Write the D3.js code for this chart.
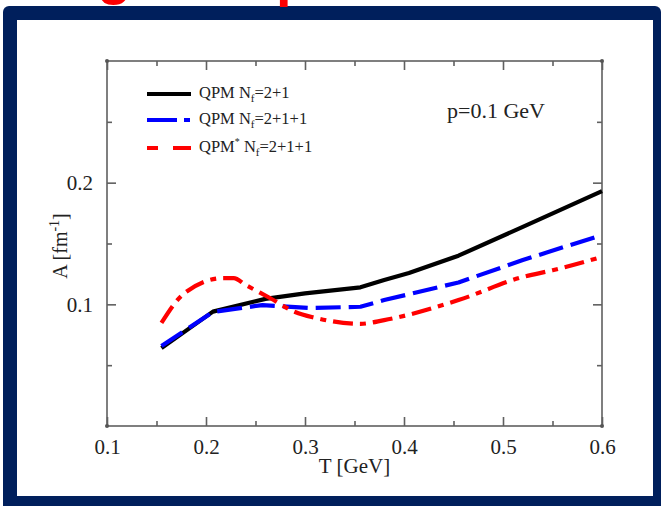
<!DOCTYPE html>
<html><head><meta charset="utf-8">
<script src="https://cdn.jsdelivr.net/npm/d3@7"></script>
<style>body{margin:0;background:#fff}svg{display:block}</style>
</head><body>
<script>
const xTicks = [0.1, 0.2, 0.3, 0.4, 0.5, 0.6];
const yTicks = [0.1, 0.2];
const xMinor = [0.15, 0.25, 0.35, 0.45, 0.55];
const yMinor = [0.05, 0.15, 0.25];

const tBlack = [0.155, 0.207, 0.26, 0.30, 0.356, 0.38, 0.405, 0.455, 0.52, 0.6];
const aBlack = [0.064, 0.094, 0.1045, 0.109, 0.114, 0.120, 0.1257, 0.140, 0.1636, 0.193];

const tBlue = [0.155, 0.207, 0.257, 0.305, 0.356, 0.38, 0.455, 0.52, 0.6];
const aBlue = [0.0658, 0.0937, 0.0994, 0.097, 0.098, 0.1035, 0.118, 0.1364, 0.157];

const tRed = [0.155, 0.178, 0.218, 0.228, 0.24, 0.265, 0.29, 0.31, 0.356, 0.38, 0.455, 0.52, 0.55, 0.6];
const aRed = [0.0847, 0.109, 0.1216, 0.1216, 0.116, 0.105, 0.0937, 0.089, 0.084, 0.087, 0.1035, 0.1225, 0.128, 0.139];

const seriesNames = ["QPM", "QPM", "QPM"];
const seriesSup = ["", "", "*"];
const seriesNf = ["=2+1", "=2+1+1", "=2+1+1"];
const seriesColors = ["#000000", "#0000ff", "#ff0000"];
const seriesDash = [null, "25,8", "20,7,6,7"];
const seriesSmooth = [false, false, true];

const W = 663, H = 506;
const svg = d3.select("body").append("svg").attr("width", W).attr("height", H);

// slide frame
svg.append("rect").attr("x", 3).attr("y", 6).attr("width", 658).attr("height", 510)
  .attr("rx", 6).attr("fill", "#001f5c");
svg.append("rect").attr("x", 17).attr("y", 20).attr("width", 636).attr("height", 476)
  .attr("fill", "#ffffff");
// cut-off slide title (descenders only visible)
const titleG = svg.append("g").attr("fill", "#ff0000")
  .attr("font-family", "Liberation Sans, Arial, sans-serif").attr("font-weight", "bold").attr("font-size", 56);
titleG.append("text").attr("x", 97).attr("y", -7).text("g");
titleG.append("text").attr("x", 276).attr("y", -5.5).text("p");

const x = d3.scaleLinear().domain([0.1, 0.6]).range([107, 602]);
const y = d3.scaleLinear().domain([0, 0.3]).range([426, 61]);

const axisColor = "#606060";
const font = "Liberation Serif, Times New Roman, serif";

// plot box
const g = svg.append("g");
g.append("rect").attr("x", x(0.1)).attr("y", y(0.3)).attr("width", x(0.6) - x(0.1)).attr("height", y(0) - y(0.3))
  .attr("fill", "none").attr("stroke", axisColor).attr("stroke-width", 1.6);

function styleAxis(sel) {
  sel.select(".domain").remove();
  sel.selectAll(".tick line").attr("stroke", axisColor).attr("stroke-width", 1.6);
  sel.selectAll(".tick text").attr("font-family", font).attr("font-size", 21).attr("fill", "#222");
}

// bottom
g.append("g").attr("transform", `translate(0,${y(0)})`)
  .call(d3.axisBottom(x).tickValues(xTicks).tickSize(-9).tickPadding(13).tickFormat(d3.format(".1f")))
  .call(styleAxis);
g.append("g").attr("transform", `translate(0,${y(0)})`)
  .call(d3.axisBottom(x).tickValues(xMinor).tickSize(-5).tickFormat(""))
  .call(styleAxis);
// top
g.append("g").attr("transform", `translate(0,${y(0.3)})`)
  .call(d3.axisTop(x).tickValues(xTicks).tickSize(-9).tickFormat(""))
  .call(styleAxis);
g.append("g").attr("transform", `translate(0,${y(0.3)})`)
  .call(d3.axisTop(x).tickValues(xMinor).tickSize(-5).tickFormat(""))
  .call(styleAxis);
// left
g.append("g").attr("transform", `translate(${x(0.1)},0)`)
  .call(d3.axisLeft(y).tickValues(yTicks).tickSize(-9).tickPadding(14).tickFormat(d3.format(".1f")))
  .call(styleAxis);
g.append("g").attr("transform", `translate(${x(0.1)},0)`)
  .call(d3.axisLeft(y).tickValues(yMinor).tickSize(-5).tickFormat(""))
  .call(styleAxis);
// right
g.append("g").attr("transform", `translate(${x(0.6)},0)`)
  .call(d3.axisRight(y).tickValues(yTicks).tickSize(-9).tickFormat(""))
  .call(styleAxis);
g.append("g").attr("transform", `translate(${x(0.6)},0)`)
  .call(d3.axisRight(y).tickValues(yMinor).tickSize(-5).tickFormat(""))
  .call(styleAxis);
// corner dots
[[0.1, 0], [0.6, 0], [0.1, 0.3], [0.6, 0.3]].forEach(([a, b]) => {
  g.append("circle").attr("cx", x(a)).attr("cy", y(b)).attr("r", 2).attr("fill", "#555");
});

// axis titles
svg.append("text").attr("x", (x(0.1) + x(0.6)) / 2).attr("y", 473).attr("text-anchor", "middle")
  .attr("font-family", font).attr("font-size", 21).attr("fill", "#222").text("T [GeV]");
const yl = svg.append("text").attr("transform", "translate(67,246) rotate(-90)").attr("text-anchor", "middle")
  .attr("font-family", font).attr("font-size", 20).attr("fill", "#222");
yl.append("tspan").text("A [fm");
yl.append("tspan").attr("dy", -8).attr("font-size", 14).text("-1");
yl.append("tspan").attr("dy", 8).text("]");

// curves
const allT = [tBlack, tBlue, tRed];
const allA = [aBlack, aBlue, aRed];
allT.forEach((ts, i) => {
  const line = d3.line().x(d => x(d[0])).y(d => y(d[1]))
    .curve(seriesSmooth[i] ? d3.curveMonotoneX : d3.curveLinear);
  const pts = ts.map((t, j) => [t, allA[i][j]]);
  const p = svg.append("path").attr("d", line(pts)).attr("fill", "none")
    .attr("stroke", seriesColors[i]).attr("stroke-width", 4.2).attr("stroke-linejoin", "round");
  if (seriesDash[i]) p.attr("stroke-dasharray", seriesDash[i]);
});

// legend
const legY = [94, 120, 148];
const legDash = [null, "30,7,6,7", "11,15,24,0"];
legY.forEach((ly, i) => {
  const l = svg.append("line").attr("x1", 147).attr("x2", 191).attr("y1", ly).attr("y2", ly)
    .attr("stroke", seriesColors[i]).attr("stroke-width", 4.2);
  if (legDash[i]) l.attr("stroke-dasharray", legDash[i]);
  const t = svg.append("text").attr("x", 199).attr("y", ly + 4)
    .attr("font-family", font).attr("font-size", 16.5).attr("fill", "#222");
  t.append("tspan").text(seriesNames[i]);
  if (seriesSup[i]) t.append("tspan").attr("dy", -7).attr("font-size", 10).text(seriesSup[i]);
  t.append("tspan").attr("dy", seriesSup[i] ? 7 : 0).text(" N");
  t.append("tspan").attr("dy", 4).attr("font-size", 11).text("f");
  t.append("tspan").attr("dy", -4).text(seriesNf[i]);
});

svg.append("text").attr("x", 447).attr("y", 118).attr("font-family", font).attr("font-size", 22)
  .attr("fill", "#222").text("p=0.1 GeV");
</script>
</body></html>
